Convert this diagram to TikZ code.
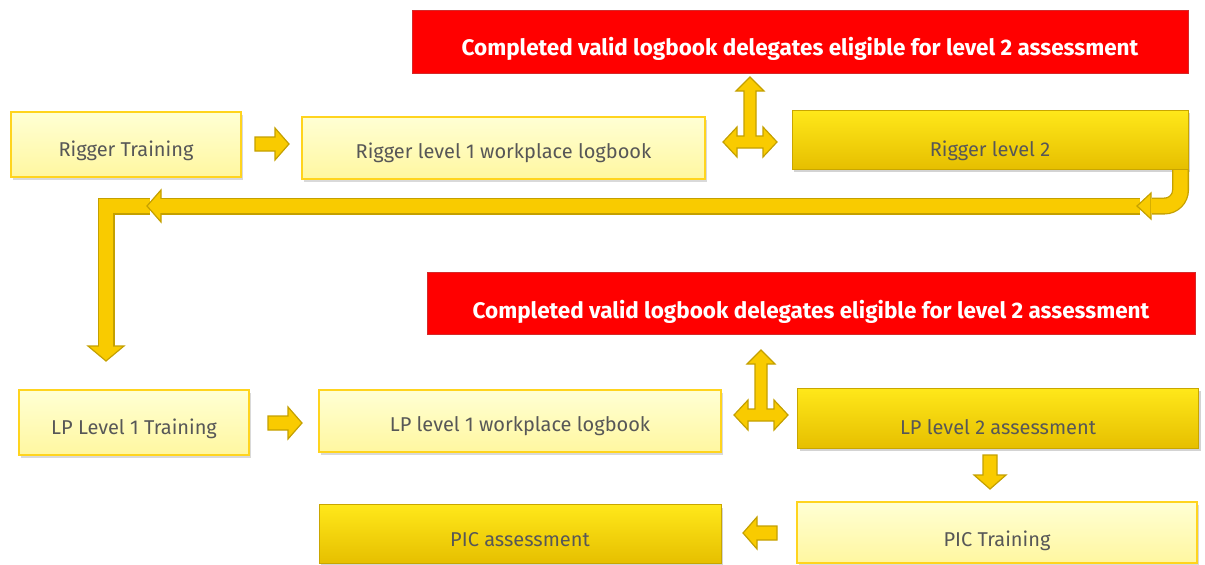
\documentclass[tikz,border=0pt]{standalone}
\usepackage{fontspec}
\setmainfont{Fira Sans}
\usetikzlibrary{shadows,calc}
\definecolor{txtgray}{HTML}{575757}
\definecolor{redfill}{HTML}{FF0000}
\definecolor{redline}{HTML}{D42A2A}
\definecolor{lighttop}{HTML}{FFFFD4}
\definecolor{lightbot}{HTML}{FFF7A0}
\definecolor{lightline}{HTML}{FFD41E}
\definecolor{darktop}{HTML}{FFE81A}
\definecolor{darkbot}{HTML}{E6BF00}
\definecolor{darkline}{HTML}{C9A600}
\definecolor{arrfill}{HTML}{F9CB00}
\definecolor{arrline}{HTML}{C4A000}
\tikzset{
  base/.style={rectangle, inner sep=0pt, text=txtgray, font=\fontsize{20}{24}\selectfont, text depth=0pt},
  redbox/.style={rectangle, inner sep=0pt, fill=redfill, draw=redline, line width=1pt,
    text=white, font=\fontsize{22.5}{26}\selectfont\bfseries, text depth=0pt},
  lightbox/.style={base, top color=lighttop, bottom color=lightbot, draw=lightline, line width=1.5pt,
    drop shadow={shadow xshift=2pt, shadow yshift=-3pt, opacity=0.3, fill=gray}},
  darkbox/.style={base, top color=darktop, bottom color=darkbot, draw=darkline, line width=1pt,
    drop shadow={shadow xshift=2pt, shadow yshift=-3pt, opacity=0.35, fill=gray}},
  arrsty/.style={fill=arrfill, draw=arrline, line width=1.2pt, line join=miter},
  barout/.style={draw=arrline, line width=17pt, line join=miter},
  barin/.style={draw=arrfill, line width=14.4pt, line join=miter},
  smallarrow/.pic={\path[arrsty] (-17,-7) -- (3,-7) -- (3,-16) -- (17,0) -- (3,16) -- (3,7) -- (-17,7) -- cycle;},
  tarrow/.pic={\path[arrsty] (0,-65) -- (14,-51) -- (6,-51) -- (6,-6) -- (13,-6) -- (13,-15) -- (27,0)
     -- (13,15) -- (13,6) -- (-13,6) -- (-13,15) -- (-27,0) -- (-13,-15) -- (-13,-6) -- (-6,-6)
     -- (-6,-51) -- (-14,-51) -- cycle;}
}
\begin{document}
\begin{tikzpicture}[x=1pt,y=-1pt]
\useasboundingbox (0,0) rectangle (1205,565);
% top section
\node[redbox, minimum width=776pt, minimum height=63pt, text height=27.5pt] (red1) at (800,41.5)
  {Completed valid logbook delegates eligible for level 2 assessment};
\node[lightbox, minimum width=230pt, minimum height=65pt, text height=24.8pt] (rt) at (126,144.5) {Rigger Training};
\node[lightbox, minimum width=403pt, minimum height=62pt, text height=21.8pt] (rl1) at (503.5,148) {Rigger level 1 workplace logbook};
\node[darkbox, minimum width=396pt, minimum height=59pt, text height=33.8pt] (rl2) at (990,139.5) {Rigger level 2};
% bottom section
\node[redbox, minimum width=768pt, minimum height=62pt, text height=31.5pt] (red2) at (811,303)
  {Completed valid logbook delegates eligible for level 2 assessment};
\node[lightbox, minimum width=230pt, minimum height=65pt, text height=23.8pt] (lpt) at (134,422.5) {LP Level 1 Training};
\node[lightbox, minimum width=402pt, minimum height=62pt, text height=21.8pt] (lpl1) at (520,421) {LP level 1 workplace logbook};
\node[darkbox, minimum width=401pt, minimum height=60pt, text height=32.8pt] (lpl2) at (998,418) {LP level 2 assessment};
\node[lightbox, minimum width=400pt, minimum height=61pt, text height=28.8pt] (pict) at (997,532.5) {PIC Training};
\node[darkbox, minimum width=402pt, minimum height=59pt, text height=25.8pt] (pica) at (520,534) {PIC assessment};
% small arrows
\pic (a1) at (272,144) {smallarrow};
\pic (a2) at (285,423) {smallarrow};
\pic[rotate=-90] (a3) at (990,472) {smallarrow};
\pic[rotate=180] (a4) at (760,533) {smallarrow};
% T arrows
\pic (t1) at (750,142) {tarrow};
\pic (t2) at (761,415) {tarrow};
% big connector
\coordinate (c0) at ($(rl2.south east)+(-8,0)$);
\coordinate (c1) at (1152,206);
\coordinate (c2) at (1140,206);
\coordinate (c3) at (160,206);
\coordinate (c4) at (150,206);
\coordinate (c5) at (106,206);
\coordinate (c6) at (106,346);
% segment 3 (bent down)
\draw[barout] (c4) -- (c5) -- (c6);
\path[arrsty] (106,361) -- (124,346) -- (88,346) -- cycle;
\draw[barin] (c4) -- (c5) -- ($(c6)+(0,1)$);
% segment 2 (horizontal)
\draw[barout] (c2) -- (c3);
\path[arrsty] (147,206) -- (161,190) -- (161,222) -- cycle;
\draw[barin] (c2) -- ($(c3)+(-1,0)$);
% segment 1 (curved from Rigger level 2)
\draw[barout, rounded corners=16pt] (c0) |- (c1);
\path[arrsty] (1137,206) -- (1151,193) -- (1151,219) -- cycle;
\draw[barin, rounded corners=16pt] ($(c0)+(0,0.5)$) |- ($(c1)+(-1,0)$);
\end{tikzpicture}
\end{document}
